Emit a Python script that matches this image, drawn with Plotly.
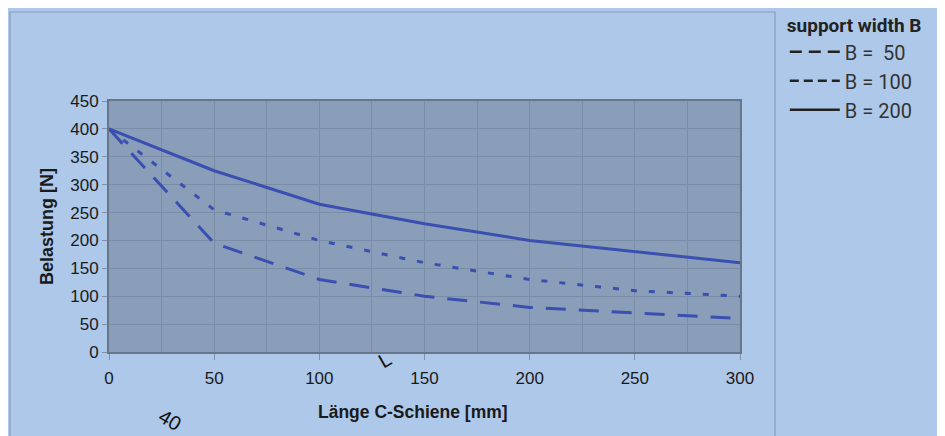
import plotly.graph_objects as go

laenge = [0, 50, 100, 150, 200, 250, 300]
b50 = [400, 195, 130, 100, 80, 70, 60]
b100 = [400, 255, 200, 160, 130, 110, 100]
b200 = [400, 325, 265, 230, 200, 180, 160]

namen = ["B =  50", "B = 100", "B = 200"]

BLAU = "#3A4FB0"
NARROW = "Roboto, Liberation Sans Narrow, DejaVu Sans Condensed, sans-serif"

fig = go.Figure()

serien = [
    (b50, "20px,13px", "12px,7px"),
    (b100, "6px,12px", "9px,5px"),
    (b200, "solid", "solid"),
]

for (werte, dash, leg_dash), name in zip(serien, namen):
    fig.add_trace(
        go.Scatter(
            x=laenge,
            y=werte,
            mode="lines",
            line=dict(color=BLAU, width=3, dash=dash),
            showlegend=False,
            hoverinfo="skip",
        )
    )
    # Legendeneintrag mit schwarzer Linie
    fig.add_trace(
        go.Scatter(
            x=[None],
            y=[None],
            mode="lines",
            name=name,
            line=dict(color="#222222", width=2.5, dash=leg_dash),
        )
    )

fig.update_layout(
    width=945,
    height=436,
    margin=dict(l=101, r=213, t=93, b=92, autoexpand=False),
    paper_bgcolor="#AEC8E9",
    plot_bgcolor="#8A9EB9",
    font=dict(family="Liberation Sans, Arial, sans-serif", size=17, color="#1a1a1a"),
    legend=dict(
        title=dict(
            text="<b>support width B</b>",
            font=dict(family=NARROW, size=19, color="#222222"),
        ),
        font=dict(family=NARROW, size=20, color="#333333"),
        x=1.071,
        y=1.372,
        xanchor="left",
        yanchor="top",
        bgcolor="rgba(0,0,0,0)",
        itemwidth=50,
        tracegroupgap=0,
    ),
    shapes=[
        dict(type="rect", xref="paper", yref="paper", x0=-0.1569, x1=1.0555, y0=-0.6, y1=1.3546,
             line=dict(color="#8A9EB8", width=1.2), layer="below"),
        dict(type="rect", xref="paper", yref="paper", x0=-0.1727, x1=0.274, y0=1.391, y1=1.41,
             line=dict(width=0), fillcolor="#7BAADD", layer="below"),
    ],
    annotations=[
        dict(text="<b>Länge C-Schiene [mm]</b>", xref="paper", yref="paper", x=0.4818, y=-0.239,
             xanchor="center", yanchor="middle", showarrow=False, font=dict(size=17.5)),
        dict(text="40", xref="paper", yref="paper", x=0.0967, y=-0.271, xanchor="center",
             yanchor="middle", showarrow=False, textangle=30,
             font=dict(size=20, color="#111111", family="Liberation Sans, Arial")),
        dict(text="L", xref="paper", yref="paper", x=0.437, y=-0.03, xanchor="center",
             yanchor="middle", showarrow=False, textangle=-30,
             font=dict(size=20, color="#111111", family="Liberation Sans, Arial")),
    ],
)

fig.update_xaxes(
    range=[0, 300],
    dtick=50,
    showgrid=True,
    gridcolor="#7A8DA8",
    gridwidth=1,
    minor=dict(dtick=25, showgrid=True, gridcolor="#7A8DA8"),
    showline=True,
    linecolor="#66778C",
    linewidth=2,
    mirror=True,
    ticks="outside",
    ticklen=6,
    tickcolor="#8090A8",
    zeroline=False,
    tickfont=dict(size=17),
    ticklabelstandoff=4,
)

fig.update_yaxes(
    range=[0, 450],
    dtick=50,
    showgrid=True,
    gridcolor="#7A8DA8",
    gridwidth=1,
    showline=True,
    linecolor="#66778C",
    linewidth=2,
    mirror=True,
    ticks="outside",
    ticklen=5,
    tickcolor="#8090A8",
    zeroline=False,
    tickfont=dict(size=17),
    title=dict(text="<b>Belastung [N]</b>", font=dict(size=18), standoff=12),
)

fig.write_html("out.html")
